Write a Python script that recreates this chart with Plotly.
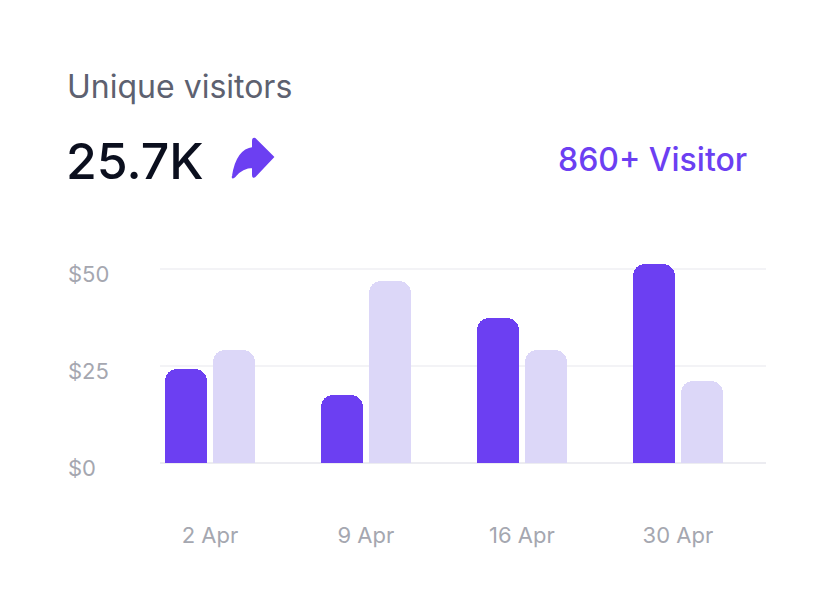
import plotly.graph_objects as go

# data
dates = ['2 Apr', '9 Apr', '16 Apr', '30 Apr']
current = [24.3, 17.4, 37.5, 51.4]
previous = [29.1, 46.8, 29.1, 21.2]
y_ticks = [0, 25, 50]
y_labels = ['$0', '$25', '$50']

# page has an 8px body margin, so the figure is drawn 8px in
W, H = 800, 590
L, R, T, B = 152, 42, 242, 135
OFF = 8
PURPLE = '#6c3ff2'
LAVENDER = '#dcd7f8'
GREY = '#a5a7b0'
FONT = 'Inter, Noto Sans, sans-serif'


def px(x):
    # page pixel -> paper x
    return (x - OFF - L) / (W - L - R)


def py(y):
    # page pixel -> paper y
    return (H - B - (y - OFF)) / (H - T - B)


xs = list(range(len(dates)))

fig = go.Figure()
fig.add_bar(x=xs, y=current, width=0.27, offset=-0.29,
            marker=dict(color=PURPLE, cornerradius=12, line_width=0))
fig.add_bar(x=xs, y=previous, width=0.27, offset=0.02,
            marker=dict(color=LAVENDER, cornerradius=12, line_width=0))

fig.update_layout(
    width=W, height=H,
    margin=dict(l=L, r=R, t=T, b=B),
    plot_bgcolor='white', paper_bgcolor='white',
    showlegend=False,
    font=dict(family=FONT, color=GREY, size=22),
    bargap=0,
)
fig.update_xaxes(
    range=[-0.32, 3.565], tickvals=xs, ticktext=dates,
    showgrid=False, zeroline=False, showline=False,
    ticks='', ticklabelstandoff=57,
    tickfont=dict(size=22, color=GREY),
)
fig.update_yaxes(
    range=[0, 54.9], tickvals=y_ticks, showticklabels=False,
    gridcolor='#f3f3f6', gridwidth=2,
    zeroline=True, zerolinecolor='#ececf1', zerolinewidth=2,
)

# y tick labels, left aligned like the card design
for v, lab in zip(y_ticks, y_labels):
    fig.add_annotation(x=px(66), xref='paper', y=v, yref='y', yshift=-5,
                       text=lab, showarrow=False, xanchor='left', yanchor='middle',
                       font=dict(size=22, color=GREY))

# header texts
fig.add_annotation(x=px(65), y=py(86), xref='paper', yref='paper',
                   text='Unique visitors', showarrow=False,
                   xanchor='left', yanchor='middle',
                   font=dict(size=32, color='#5d6170'))
fig.add_annotation(x=px(64), y=py(161), xref='paper', yref='paper',
                   text='25.7K', showarrow=False,
                   xanchor='left', yanchor='middle',
                   font=dict(size=50, color='#0b0f1e', weight=500))
fig.add_annotation(x=px(749), y=py(160), xref='paper', yref='paper',
                   text='860+ Visitor', showarrow=False,
                   xanchor='right', yanchor='middle',
                   font=dict(size=32, color=PURPLE, weight=500))

# curved "trending" arrow icon
fig.add_shape(
    type='path', xref='paper', yref='paper',
    xsizemode='pixel', ysizemode='pixel',
    xanchor=px(252), yanchor=py(158),
    path='M 21 1 L 3 19 Q 1 20 1 17 L 1 10 Q -15 8 -19 -18 '
         'Q -20 -21 -17 -18 Q -10 -9 1 -9 L 1 -17 Q 1 -20 3 -18 Z',
    fillcolor=PURPLE, line=dict(color=PURPLE, width=2),
)

fig.write_html('out.html')
